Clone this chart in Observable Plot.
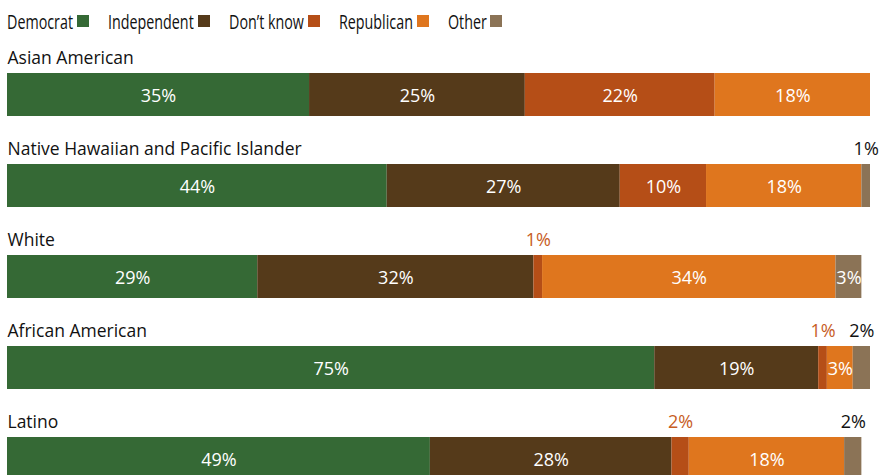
<!DOCTYPE html>
<html><head><meta charset="utf-8">
<script src="https://cdn.jsdelivr.net/npm/d3@7"></script>
<script src="https://cdn.jsdelivr.net/npm/@observablehq/plot@0.6"></script>
<style>
body{margin:0;background:#fff;font-family:"Open Sans",sans-serif;color:#111;}
#legend{height:42px;display:flex;align-items:center;padding-left:7px;font-family:"Open Sans",sans-serif;font-size:20px;color:#111;white-space:nowrap}
.item{display:flex;align-items:center;margin-right:19px}
.lbl{display:inline-block;overflow:visible}
.lbl span{display:inline-block;transform:scaleX(0.715);transform-origin:0 50%}
.sw{width:12px;height:12px;margin-left:4px;display:inline-block;flex:none}
#chart{margin-top:-2px}
#chart svg{overflow:visible}
</style></head><body>
<div id="legend"></div><div id="chart"></div>
<script>
const groups = ["Asian American","Native Hawaiian and Pacific Islander","White","African American","Latino"];
const parties = ["Democrat","Independent","Don’t know","Republican","Other"];
const partyColors = ["#356935","#553a1a","#b54e17","#df761e","#8b7356"];
const asianAmerican = [35,25,22,18,null];
const nativeHawaiian = [44,27,10,18,1];
const white = [29,32,1,34,3];
const africanAmerican = [75,19,1,3,2];
const latino = [49,28,2,18,2];

const series = [asianAmerican, nativeHawaiian, white, africanAmerican, latino];
const data = [];
groups.forEach((g,i) => parties.forEach((p,j) => {
  const v = series[i][j];
  if (v != null) data.push({group:g, party:p, value:v});
}));

const legend = document.getElementById("legend");
parties.forEach((p,j) => {
  const it = document.createElement("span"); it.className="item";
  it.innerHTML = `<span class="lbl"><span>${p}</span></span><span class="sw" style="background:${partyColors[j]}"></span>`;
  legend.appendChild(it);
  const inner = it.querySelector(".lbl span");
  it.querySelector(".lbl").style.width = (inner.getBoundingClientRect().width) + "px";
});

const plot = Plot.plot({
  width: 880, height: 435,
  marginLeft: 7, marginRight: 10, marginTop: 0, marginBottom: 0,
  style: {fontFamily: "'Open Sans', sans-serif", overflow: "visible"},
  x: {domain: [0,100], axis: null},
  y: {domain: groups, range: [32, 441], paddingInner: 0.53, paddingOuter: 0, axis: null},
  color: {domain: parties, range: partyColors},
  marks: [
    Plot.barX(data, {x:"value", y:"group", fill:"party"}),
    Plot.text(data, Plot.stackX({x:"value", y:"group", text: d => d.value >= 3 ? d.value + "%" : "", fill:"white", fontSize:18, dy:1})),
    Plot.text(data, Plot.stackX({x:"value", y:"group", text: d => d.value < 3 && d.party === "Don’t know" ? d.value + "%" : "", fill:"#c75d1f", fontSize:18, dy:-37})),
    Plot.text(data, Plot.stackX({x:"value", y:"group", text: d => d.value < 3 && d.party === "Other" ? d.value + "%" : "", fill:"#111", fontSize:18, dy:-37})),
    Plot.text(groups, {x: 0, y: d => d, text: d => d, textAnchor:"start", fill:"#111", fontSize:17.5, dy:-37})
  ]
});
document.getElementById("chart").appendChild(plot);
</script>
</body></html>
